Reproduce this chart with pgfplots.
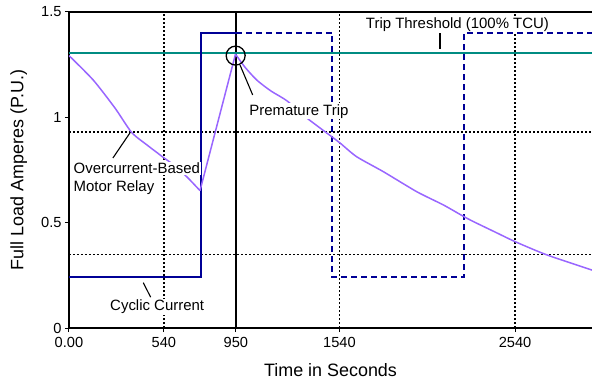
\documentclass[border=0pt]{standalone}
\usepackage{pgfplots}
\pgfplotsset{compat=1.18}
\usepackage{fontspec}
\setmainfont{Liberation Sans}
\definecolor{cyc}{RGB}{0,0,150}
\definecolor{teal2}{RGB}{0,140,130}
\definecolor{purp}{RGB}{153,102,255}
\begin{document}
\begin{tikzpicture}
\begin{axis}[
  name=ax,
  scale only axis, width=523bp, height=316bp,
  xmin=0, xmax=2978, ymin=0, ymax=1.5,
  axis x line=box, axis y line=left,
  axis line style={-, line width=1.8bp, black},
  xtick={0,540,950,1540,2540}, xticklabels={0.00,540,950,1540,2540},
  ytick={0,0.5,1,1.5}, yticklabels={0,0.5,1,1.5},
  tick pos=left, tick align=outside, major tick length=4bp,
  tick style={black, line width=1bp},
  /pgf/number format/assume math mode=true,
  tick label style={font=\fontsize{14.7}{17}\selectfont},
  x tick label style={yshift=-2bp},
  xlabel={Time in Seconds}, ylabel={Full Load Amperes (P.U.)},
  every axis x label/.style={at={(axis description cs:0.5,-0.154)}, anchor=base, font=\fontsize{18}{21}\selectfont},
  every axis y label/.style={at={(axis description cs:-0.0874,0.5)}, rotate=90, anchor=base, font=\fontsize{18}{21}\selectfont},
]
% dotted grid
\addplot[black, line width=1.5bp, dash pattern=on 2bp off 2bp] coordinates {(540,0) (540,1.5)};
\addplot[black, line width=1.5bp, dash pattern=on 2bp off 2bp] coordinates {(1540,0) (1540,1.5)};
\addplot[black, line width=1.5bp, dash pattern=on 2bp off 2bp] coordinates {(2540,0) (2540,1.5)};
\addplot[black, line width=1.5bp, dash pattern=on 2bp off 2bp] coordinates {(0,0.93) (2978,0.93)};
\addplot[black, line width=1.5bp, dash pattern=on 2bp off 2bp] coordinates {(0,0.35) (2978,0.35)};
% solid 950 line
\addplot[black, line width=1.5bp] coordinates {(950,0) (950,1.5)};
% trip threshold
\addplot[teal2, line width=1.9bp] coordinates {(0,1.306) (2978,1.306)};
% cyclic current
\addplot[cyc, line width=2bp] coordinates {(0,0.24) (750,0.24) (750,1.4) (950,1.4)};
\addplot[cyc, line width=2bp, dash pattern=on 6bp off 4bp] coordinates {(950,1.4) (1500,1.4) (1500,0.24) (2250,0.24) (2250,1.4) (2978,1.4)};
% relay thermal model
\addplot[purp, line width=1.5bp, smooth, tension=0.4] coordinates {
(0,1.293) (138,1.177) (262,1.044) (357,0.928) (450,0.865) (537,0.810) (604,0.769) (680,0.71) (746,0.652)};
\addplot[purp, line width=1.5bp] coordinates {(746,0.652) (948,1.300)};
\addplot[purp, line width=1.5bp, smooth, tension=0.4] coordinates {
(948,1.300) (1000,1.240) (1069,1.177) (1150,1.125) (1240,1.079) (1354,0.997) (1496,0.908) (1545,0.877) (1638,0.813)
(1790,0.742) (1980,0.647) (2132,0.584) (2246,0.530) (2303,0.505) (2420,0.458) (2540,0.41) (2721,0.347) (2978,0.275)};
% annotations
\node[fill=white, inner sep=1bp, anchor=base west, font=\fontsize{15}{18}\selectfont] at (axis cs:20,0.734) {Overcurrent-Based};
\node[fill=white, inner sep=1bp, anchor=base west, font=\fontsize{15}{18}\selectfont] at (axis cs:20,0.650) {Motor Relay};
\draw[black, line width=1.1bp] (axis cs:250,0.807) -- (axis cs:347,0.926);
\node[fill=white, inner sep=1bp, anchor=base west, font=\fontsize{15}{18}\selectfont] at (axis cs:1020,1.011) {Premature Trip};
\draw[black, line width=1.1bp] (axis cs:974,1.248) -- (axis cs:1046,1.106);
\draw[black, line width=1.3bp] (axis cs:949,1.293) circle[radius=9.5bp];
\node[fill=white, inner sep=1bp, anchor=base, font=\fontsize{15}{18}\selectfont] at (axis cs:2212,1.4226) {Trip Threshold (100\% TCU)};
\draw[black, line width=1.3bp] (axis cs:2113,1.398) -- (axis cs:2113,1.324);
\node[fill=white, inner sep=1bp, anchor=base west, font=\fontsize{15}{18}\selectfont] at (axis cs:228,0.082) {Cyclic Current};
\draw[black, line width=1.1bp] (axis cs:423,0.215) -- (axis cs:465,0.146);
\end{axis}
\pgfresetboundingbox
\path[use as bounding box] ([shift={(-69bp,-55bp)}]ax.south west) rectangle ([shift={(0bp,12bp)}]ax.north east);
\end{tikzpicture}
\end{document}
